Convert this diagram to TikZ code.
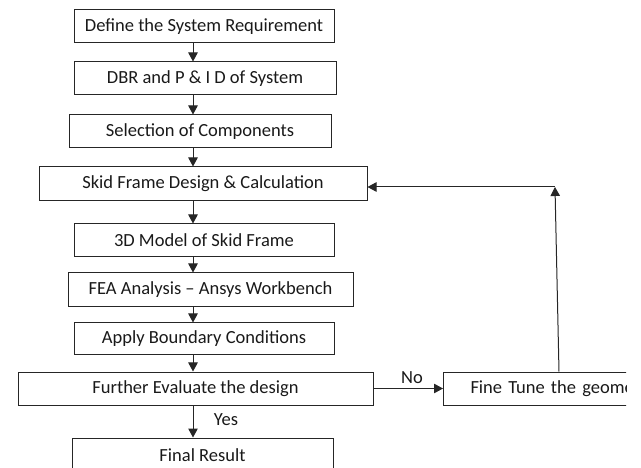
\documentclass[tikz,border=0pt]{standalone}
\usepackage{fontspec}
\setmainfont{Carlito}
\usetikzlibrary{arrows.meta}
\begin{document}
\begin{tikzpicture}[x=1pt,y=-1pt,
  box/.style={draw=black!85, line width=1pt, inner sep=0pt, font=\fontsize{18.5}{21}\selectfont, text=black!90},
  arr/.style={draw=black!85, line width=1pt, -{Triangle[width=9.5pt,length=9pt]}},
  lbl/.style={font=\fontsize{18.5}{21}\selectfont, text=black!90, inner sep=0pt}]
\useasboundingbox (0,0) rectangle (641,468);
\node[box, minimum width=260pt, minimum height=33pt] (b1) at (204,26.5) {Define the System Requirement};
\node[box, minimum width=262pt, minimum height=33pt] (b2) at (205,78.5) {DBR and P \& I D of System};
\node[box, minimum width=262pt, minimum height=33pt] (b3) at (200,131.5) {Selection of Components};
\node[box, minimum width=328pt, minimum height=34pt] (b4) at (203,184) {Skid Frame Design \& Calculation};
\node[box, minimum width=260pt, minimum height=33pt] (b5) at (204,240.5) {3D Model of Skid Frame};
\node[box, minimum width=285pt, minimum height=34pt] (b6) at (210.5,290) {FEA Analysis – Ansys Workbench};
\node[box, minimum width=260pt, minimum height=32pt] (b7) at (204,339) {Apply Boundary Conditions};
\node[box, minimum width=355pt, minimum height=33pt] (b8) at (195.5,388.5) {Further Evaluate the design};
\node[box, minimum width=261pt, minimum height=34pt] (b9) at (202.5,455) {Final Result};
\begin{scope}
\clip (0,0) rectangle (626,468);
\node[box, anchor=west, minimum width=250pt, minimum height=33pt, text width=223pt, align=left, inner xsep=27pt, inner ysep=0pt] (f) at (443,388.5) {Fine Tune the geometry};
\end{scope}
\coordinate (ax) at (193,0);
\draw[arr] (b1.south -| ax) -- (b2.north -| ax);
\draw[arr] (b2.south -| ax) -- (b3.north -| ax);
\draw[arr] (b3.south -| ax) -- (b4.north -| ax);
\draw[arr] (b4.south -| ax) -- (b5.north -| ax);
\draw[arr] (b5.south -| ax) -- (b6.north -| ax);
\draw[arr] (b6.south -| ax) -- (b7.north -| ax);
\draw[arr] (b7.south -| ax) -- (b8.north -| ax);
\draw[arr] (b8.south -| ax) -- (b9.north -| ax);
\node[lbl] (yes) at (226,420) {Yes};
\draw[arr] (b8.east) -- (f.west);
\node[lbl] (no) at (412,378) {No};
\coordinate (fb) at (559,372);
\coordinate (corner) at (555,187);
\draw[arr] (f.north -| fb) -- (corner);
\draw[arr] (corner) -- (b4.east |- corner);
\end{tikzpicture}
\end{document}
